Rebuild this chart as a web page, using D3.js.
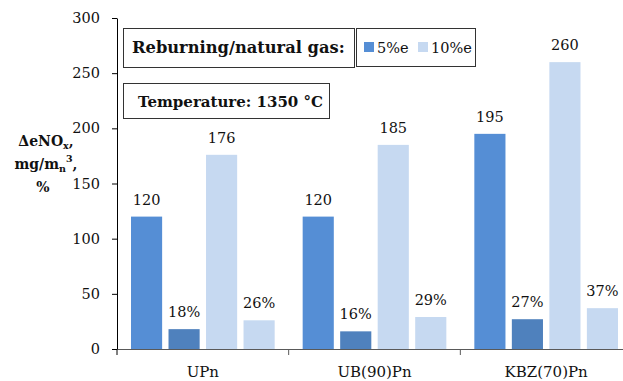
<!DOCTYPE html>
<html><head><meta charset="utf-8">
<script src="https://cdn.jsdelivr.net/npm/d3@7"></script>
<style>
body{margin:0;background:#fff;}
svg{display:block;font-family:"DejaVu Serif",serif;}
</style></head>
<body>
<svg id="c" width="623" height="381"></svg>
<script>
const categories = ["UPn", "UB(90)Pn", "KBZ(70)Pn"];
const abs5  = [120, 120, 195];
const pct5  = [18, 16, 27];
const abs10 = [176, 185, 260];
const pct10 = [26, 29, 37];
const yTicks = [0, 50, 100, 150, 200, 250, 300];
const seriesKeys = ["abs5", "pct5", "abs10", "pct10"];
const seriesColors = {abs5: "#558ED5", pct5: "#4F81BD", abs10: "#C6D9F1", pct10: "#C6D9F1"};
const legendItems = [{label: "5%e", color: "#558ED5"}, {label: "10%e", color: "#C6D9F1"}];

(function () {
const svg = d3.select("#c");
const pL = 117, pR = 632, pT = 18, pB = 349;

const y = d3.scaleLinear().domain([0, 300]).range([pB, pT]);
const x0 = d3.scaleBand().domain(categories).range([pL, pR]).padding(0);
const x1 = d3.scaleBand().domain(seriesKeys).range([14, x0.bandwidth() - 14]).paddingInner(0.17).paddingOuter(0);

const rows = categories.map((c, i) => ({
  cat: c,
  vals: [
    {k: "abs5", v: abs5[i], t: String(abs5[i])},
    {k: "pct5", v: pct5[i], t: pct5[i] + "%"},
    {k: "abs10", v: abs10[i], t: String(abs10[i])},
    {k: "pct10", v: pct10[i], t: pct10[i] + "%"}
  ]
}));

// bars
const g = svg.append("g");
const grp = g.selectAll("g.cat").data(rows).join("g")
  .attr("transform", d => `translate(${x0(d.cat)},0)`);
grp.selectAll("rect").data(d => d.vals).join("rect")
  .attr("x", d => x1(d.k)).attr("width", x1.bandwidth())
  .attr("y", d => y(d.v)).attr("height", d => y(0) - y(d.v))
  .attr("fill", d => seriesColors[d.k]);
grp.selectAll("text").data(d => d.vals).join("text")
  .attr("x", d => x1(d.k) + x1.bandwidth() / 2)
  .attr("y", d => y(d.v) - 12)
  .attr("text-anchor", "middle").attr("font-size", 14.5).attr("fill", "#111")
  .text(d => d.t);

// y axis
const ya = svg.append("g").attr("transform", `translate(${pL},0)`)
  .call(d3.axisLeft(y).tickValues(yTicks).tickSize(5).tickPadding(12).tickSizeOuter(0));
ya.select(".domain").attr("stroke", "#000");
ya.selectAll(".tick line").attr("stroke", "#000");
ya.selectAll(".tick text").attr("font-size", 14.5).attr("font-family", "DejaVu Serif").attr("fill", "#111");

// x axis
const xa = svg.append("g").attr("transform", `translate(0,${pB})`)
  .call(d3.axisBottom(x0).tickSize(0).tickPadding(17).tickSizeOuter(0));
xa.select(".domain").attr("stroke", "#595959").attr("stroke-width", 1.2);
xa.selectAll(".tick text").attr("font-size", 15).attr("font-family", "DejaVu Serif").attr("fill", "#111");
const bounds = categories.map(c => x0(c));
xa.selectAll("line.bnd").data(bounds).join("line").attr("class", "bnd")
  .attr("x1", d => d).attr("x2", d => d).attr("y1", 0).attr("y2", 6)
  .attr("stroke", d => d === pL ? "#000" : "#595959");

// y axis title
const yt = svg.append("text").attr("text-anchor", "middle").attr("font-weight", "bold")
  .attr("font-size", 14).attr("fill", "#111");
const l1 = yt.append("tspan").attr("x", 46).attr("y", 146);
l1.append("tspan").text("ΔeNO");
l1.append("tspan").attr("font-size", 9.5).attr("dy", 3).text("x");
l1.append("tspan").attr("dy", -3).text(",");
const l2 = yt.append("tspan").attr("x", 46).attr("y", 169);
l2.append("tspan").text("mg/m");
l2.append("tspan").attr("font-size", 9.5).attr("dy", 3).text("n");
l2.append("tspan").attr("font-size", 9.5).attr("dy", -10).text("3");
l2.append("tspan").attr("dy", 7).text(",");
yt.append("tspan").attr("x", 43).attr("y", 192).text("%");

// boxes
function box(x, yy, w, h) {
  svg.append("rect").attr("x", x + 0.5).attr("y", yy + 0.5).attr("width", w).attr("height", h)
    .attr("fill", "#fff").attr("stroke", "#333").attr("stroke-width", 1);
}
box(123, 28, 231, 39);
svg.append("text").attr("x", 132).attr("y", 53).attr("font-weight", "bold").attr("font-size", 16.3)
  .attr("fill", "#111").text("Reburning/natural gas:");
box(356, 28, 119, 38);
const lg = svg.append("g");
const lx = [364, 418];
legendItems.forEach((d, i) => {
  lg.append("rect").attr("x", lx[i]).attr("y", 42).attr("width", 10).attr("height", 10).attr("fill", d.color);
  lg.append("text").attr("x", lx[i] + 13).attr("y", 53).attr("font-size", 14.5).attr("fill", "#111").text(d.label);
});
box(123, 83, 206, 35);
svg.append("text").attr("x", 138).attr("y", 107).attr("font-weight", "bold").attr("font-size", 15)
  .attr("fill", "#111").text("Temperature: 1350 °C");
})();
</script>
</body></html>
